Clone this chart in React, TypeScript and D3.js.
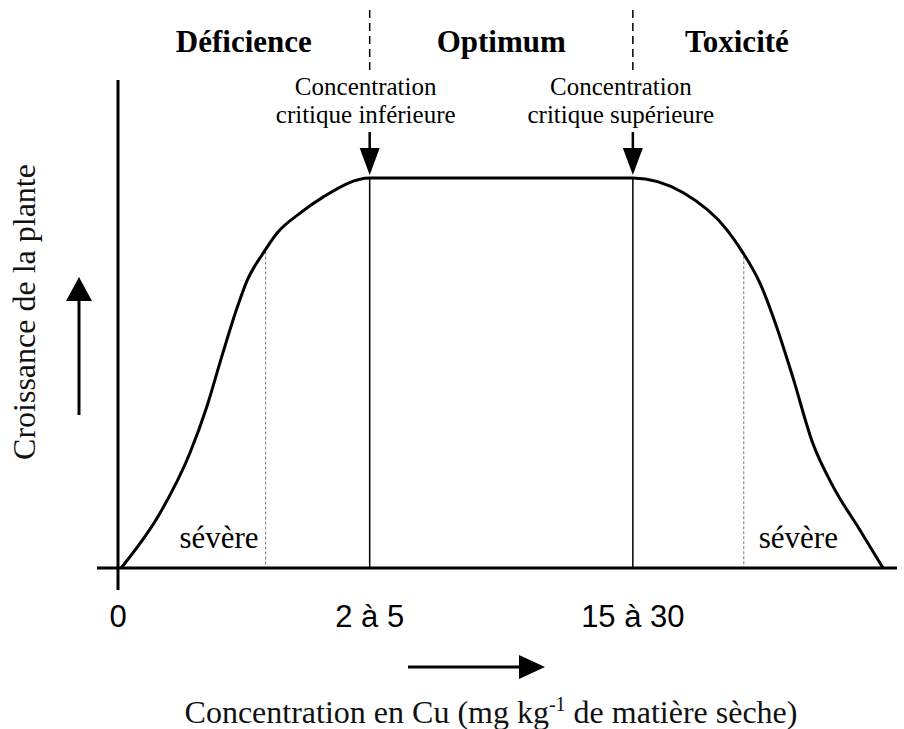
import React, { useRef, useEffect } from 'react';
import * as d3 from 'd3';

// courbe de croissance (abscisse en unités relatives 0-100, croissance en %)
const curveX = [0.4, 5.5, 9.4, 11.6, 13.7, 15.6, 16.9, 19.0, 20.8, 23.8, 26.8, 32.9, 67.3, 73.9, 79.6, 81.7, 83.9, 86.1, 88.2, 90.8, 93.5, 97.0, 100];
const curveY = [0, 14.1, 29.5, 41.3, 55.1, 66.9, 73.8, 80.8, 85.9, 91.0, 95.1, 100, 100, 96.2, 86.7, 80.8, 73.1, 61.8, 49.0, 32.1, 20.8, 9.7, 0];

const tickLabels = ['0', '2 à 5', '15 à 30'];
const tickValues = [0, 32.9, 67.3];

const zoneNames = ['Déficience', 'Optimum', 'Toxicité'];
const zoneBounds = [0, 32.9, 67.3, 94.5];

const criticalLines1 = ['Concentration', 'Concentration'];
const criticalLines2 = ['critique inférieure', 'critique supérieure'];
const criticalValues = [32.9, 67.3];

const severeLabels = ['sévère', 'sévère'];
const severeValues = [19.3, 81.8];

export default function App(): JSX.Element {
  const svgRef = useRef<SVGSVGElement>(null);

  useEffect(() => {
    const el = svgRef.current;
    if (el == null) return;
    const svg = d3.select(el);
    svg.selectAll('*').remove();

    const serif = '"Liberation Serif", "Times New Roman", serif';
    const sans = '"Liberation Sans", Arial, sans-serif';

    const x = d3.scaleLinear().domain([0, 100]).range([118, 883]);
    const y = d3.scaleLinear().domain([0, 100]).range([568, 178]);

    const pts: [number, number][] = curveX.map((d, i) => [d, curveY[i]]);
    // valeur de la courbe à une abscisse donnée
    const valueAt = (v: number) => {
      for (let i = 1; i < pts.length; i++) {
        if (v <= pts[i][0]) {
          const t = (v - pts[i - 1][0]) / (pts[i][0] - pts[i - 1][0]);
          return pts[i - 1][1] + t * (pts[i][1] - pts[i - 1][1]);
        }
      }
      return 0;
    };

    // lignes verticales critiques
    svg
      .selectAll('line.crit')
      .data(criticalValues)
      .join('line')
      .attr('class', 'crit')
      .attr('x1', (d) => x(d))
      .attr('x2', (d) => x(d))
      .attr('y1', (d) => y(valueAt(d)))
      .attr('y2', y(0))
      .attr('stroke', '#000')
      .attr('stroke-width', 1.5);

    // lignes pointillées "sévère"
    svg
      .selectAll('line.sev')
      .data(severeValues)
      .join('line')
      .attr('class', 'sev')
      .attr('x1', (d) => x(d))
      .attr('x2', (d) => x(d))
      .attr('y1', (d) => y(valueAt(d)) + 2)
      .attr('y2', y(0))
      .attr('stroke', '#777')
      .attr('stroke-width', 1)
      .attr('stroke-dasharray', '3,2');

    // axes
    svg
      .append('line')
      .attr('x1', x(0))
      .attr('x2', x(0))
      .attr('y1', 80)
      .attr('y2', 590)
      .attr('stroke', '#000')
      .attr('stroke-width', 3);
    svg
      .append('line')
      .attr('x1', 97)
      .attr('x2', 897)
      .attr('y1', y(0))
      .attr('y2', y(0))
      .attr('stroke', '#000')
      .attr('stroke-width', 3);

    // courbe
    const line = d3
      .line<[number, number]>()
      .x((d) => x(d[0]))
      .y((d) => y(d[1]))
      .curve(d3.curveMonotoneX);
    svg
      .append('path')
      .attr('d', line(pts) as string)
      .attr('fill', 'none')
      .attr('stroke', '#000')
      .attr('stroke-width', 3)
      .attr('stroke-linejoin', 'round');

    // zones
    const zones = zoneNames.map((name, i) => ({ name, a: zoneBounds[i], b: zoneBounds[i + 1] }));
    svg
      .selectAll('text.zone')
      .data(zones)
      .join('text')
      .attr('class', 'zone')
      .attr('x', (d) => x((d.a + d.b) / 2))
      .attr('y', 52)
      .attr('text-anchor', 'middle')
      .style('font-family', serif)
      .style('font-weight', 'bold')
      .style('font-size', '31px')
      .text((d) => d.name);
    svg
      .selectAll('line.sep')
      .data(zoneBounds.slice(1, 3))
      .join('line')
      .attr('class', 'sep')
      .attr('x1', (d) => x(d))
      .attr('x2', (d) => x(d))
      .attr('y1', 10)
      .attr('y2', 70)
      .attr('stroke', '#000')
      .attr('stroke-width', 1.5)
      .attr('stroke-dasharray', '8,5');

    // concentrations critiques
    const offs = [-4, -12];
    criticalValues.forEach((v, i) => {
      const cx = x(v);
      const t = svg
        .append('text')
        .attr('text-anchor', 'middle')
        .style('font-family', serif)
        .style('font-size', '25px');
      t.append('tspan').attr('x', cx + offs[i]).attr('y', 95).text(criticalLines1[i]);
      t.append('tspan').attr('x', cx + offs[i]).attr('y', 123).text(criticalLines2[i]);
      const top = y(valueAt(v));
      svg
        .append('line')
        .attr('x1', cx)
        .attr('x2', cx)
        .attr('y1', 132)
        .attr('y2', top - 26)
        .attr('stroke', '#000')
        .attr('stroke-width', 2.5);
      svg
        .append('path')
        .attr('d', `M${cx - 10},${top - 30}L${cx + 10},${top - 30}L${cx},${top - 3}Z`)
        .attr('fill', '#000');
    });

    // sévère
    svg
      .selectAll('text.sev')
      .data(severeLabels)
      .join('text')
      .attr('class', 'sev')
      .attr('x', (_d, i) => (i === 0 ? x(severeValues[i]) - 7 : x(severeValues[i]) + 15))
      .attr('y', 548)
      .attr('text-anchor', (_d, i) => (i === 0 ? 'end' : 'start'))
      .style('font-family', serif)
      .style('font-size', '31px')
      .text((d) => d);

    // graduations
    svg
      .selectAll('text.tick')
      .data(tickLabels)
      .join('text')
      .attr('class', 'tick')
      .attr('x', (_d, i) => x(tickValues[i]))
      .attr('y', 627)
      .attr('text-anchor', 'middle')
      .style('font-family', sans)
      .style('font-size', '31px')
      .text((d) => d);

    // flèches des axes
    svg
      .append('line')
      .attr('x1', 79)
      .attr('x2', 79)
      .attr('y1', 415)
      .attr('y2', 298)
      .attr('stroke', '#000')
      .attr('stroke-width', 3);
    svg.append('path').attr('d', 'M66,301L92,301L79,277Z').attr('fill', '#000');
    svg
      .append('line')
      .attr('x1', 408)
      .attr('x2', 522)
      .attr('y1', 667)
      .attr('y2', 667)
      .attr('stroke', '#000')
      .attr('stroke-width', 3);
    svg.append('path').attr('d', 'M519,655L519,679L545,667Z').attr('fill', '#000');

    // titres des axes
    svg
      .append('text')
      .attr('transform', 'translate(35,312) rotate(-90)')
      .attr('text-anchor', 'middle')
      .style('font-family', serif)
      .style('font-size', '32px')
      .style('fill', '#111')
      .text('Croissance de la plante');

    const xt = svg
      .append('text')
      .attr('x', 491)
      .attr('y', 723)
      .attr('text-anchor', 'middle')
      .style('font-family', serif)
      .style('font-size', '32px')
      .style('fill', '#111');
    xt.append('tspan').text('Concentration en Cu (mg kg');
    xt.append('tspan').attr('dy', -12).style('font-size', '20px').text('-1');
    xt.append('tspan').attr('dy', 12).text(' de matière sèche)');
  }, []);

  return (
    <div style={{ position: 'absolute', left: 0, top: 0, background: '#fff' }}>
      <svg ref={svgRef} width={904} height={729} style={{ display: 'block' }} />
    </div>
  );
}
